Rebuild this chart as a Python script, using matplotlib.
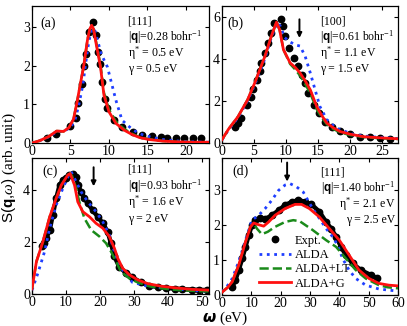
import matplotlib

matplotlib.use("Agg")
import matplotlib.pyplot as plt

# ---- panel (a): [111], q = 0.28 ----
a_expt_x = [1.9, 3.1, 5.0, 5.7, 6.0, 6.56, 6.7, 7.0, 7.35, 7.96, 8.3, 8.6, 8.8, 9.05, 9.43,
            9.78, 10.65, 11.7, 13.1, 14.3, 15.6, 16.7, 17.6, 18.7, 19.8, 20.9, 22.0]
a_expt_y = [0.13, 0.24, 0.44, 0.64, 1.04, 1.54, 2.0, 2.3, 2.87, 3.13, 2.79, 2.36, 2.04, 1.57, 1.13,
            0.9, 0.59, 0.42, 0.29, 0.2, 0.17, 0.15, 0.14, 0.13, 0.12, 0.12, 0.12]
a_alda_x = [0, 1, 2.2, 3.2, 4.1, 5.0, 5.6, 6.1, 6.6, 7.0, 7.4, 7.8, 8.2, 8.6, 9.0, 9.8,
            10.9, 11.7, 13.1, 14.3, 15.5, 17.0, 19.0, 21.0, 23.0]
a_alda_y = [0, 0.06, 0.16, 0.29, 0.3, 0.4, 0.6, 1.0, 1.5, 2.1, 2.65, 2.97, 2.9, 2.6, 2.3, 1.97,
            1.11, 0.59, 0.34, 0.22, 0.15, 0.09, 0.05, 0.03, 0.02]
a_g_x = [0, 1, 2.2, 3.2, 4.1, 4.8, 5.4, 5.9, 6.3, 6.7, 7.2, 7.5, 7.75, 8.0, 8.4, 8.9, 9.35,
         10.0, 10.9, 12.0, 13.0, 14.0, 15.2, 17.0, 19.0, 21.0, 23.0]
a_g_y = [0, 0.06, 0.17, 0.31, 0.3, 0.4, 0.62, 1.11, 1.55, 1.97, 2.66, 2.95, 3.05, 2.95, 2.5, 1.97, 1.24,
         0.81, 0.51, 0.33, 0.22, 0.14, 0.09, 0.05, 0.03, 0.02, 0.02]
a_lt_y = [0, 0.06, 0.17, 0.31, 0.3, 0.4, 0.62, 1.11, 1.55, 1.97, 2.66, 2.95, 3.03, 2.95, 2.55, 2.02, 1.3,
          0.87, 0.56, 0.36, 0.24, 0.15, 0.1, 0.05, 0.03, 0.02, 0.02]

# ---- panel (b): [100], q = 0.61 ----
b_expt_x = [2.0, 2.5, 3.0, 3.95, 4.47, 4.8, 5.5, 5.9, 6.14, 6.66, 7.2, 7.7, 8.2, 9.15, 9.5, 9.9,
            10.4, 11.3, 11.95, 12.5, 13.0, 13.5, 14.3, 15.1, 16.1, 17.2, 18.5, 20.0, 21.6, 23.1,
            24.7, 26.3]
b_expt_y = [0.75, 0.97, 1.18, 1.81, 2.2, 2.56, 3.0, 3.4, 3.8, 4.27, 4.75, 5.22, 5.7, 5.86, 5.54, 5.06,
            4.5, 4.03, 3.63, 3.24, 2.84, 2.37, 1.81, 1.41, 1.01, 0.78, 0.59, 0.41, 0.3, 0.27,
            0.22, 0.19]
b_alda_x = [0, 1, 2.5, 4, 5.1, 6.0, 6.7, 7.7, 8.6, 9.1, 9.8, 10.6, 11.5, 12.2, 13.0, 13.8, 14.55,
            15.3, 16.4, 17.9, 20.5, 23.0, 27.5]
b_alda_y = [0.15, 0.62, 1.2, 2.0, 2.75, 3.45, 4.0, 5.0, 5.7, 5.55, 5.0, 4.8, 4.65, 4.6, 4.11, 3.32, 2.52,
            1.73, 1.1, 0.7, 0.41, 0.3, 0.21]
b_g_x = [0, 1, 2.5, 4, 5.1, 6.0, 6.7, 7.7, 8.5, 9.0, 9.6, 10.65, 11.4, 12.2, 13.0, 13.8, 14.8, 15.6,
         16.4, 17.4, 18.5, 20.0, 22.1, 25.0, 27.5]
b_g_y = [0.16, 0.65, 1.25, 2.05, 2.84, 3.55, 4.11, 5.06, 5.73, 5.38, 4.43, 3.8, 3.6, 3.32, 2.95, 2.52,
         1.73, 1.3, 0.94, 0.72, 0.54, 0.42, 0.3, 0.24, 0.2]
b_lt_y = [0.16, 0.65, 1.25, 2.05, 2.84, 3.55, 4.11, 5.06, 5.73, 5.38, 4.43, 3.75, 3.5, 3.2, 2.8, 2.35,
          1.6, 1.2, 0.88, 0.66, 0.5, 0.38, 0.28, 0.22, 0.19]

# ---- panel (c): [111], q = 0.93 ----
c_expt_x = [3.0, 3.6, 4.2, 5.2, 6.1, 7.1, 8.1, 9.06, 10.05, 11.0, 12.0, 13.0, 13.45, 14.4, 15.4,
            16.4, 17.8, 19.3, 20.8, 22.2, 23.2, 24.2, 25.6, 27.6, 29.5, 32.0, 34.4, 37.0, 39.3,
            42.0, 44.2, 47.0, 49.0, 51.5]
c_expt_y = [1.85, 1.95, 2.15, 2.47, 3.05, 3.69, 4.2, 4.4, 4.48, 4.59, 4.65, 4.52, 4.2, 3.95, 3.69,
            3.5, 3.24, 2.98, 2.73, 2.41, 1.96, 1.45, 1.06, 0.81, 0.64, 0.45, 0.32, 0.27, 0.23,
            0.21, 0.19, 0.17, 0.16, 0.15]
c_alda_x = [0, 1.75, 3.7, 5.2, 7.1, 9.06, 10.8, 11.5, 13.0, 14.4, 16.4, 18.8, 20.8, 22.7, 24.2,
            25.6, 27.6, 29.5, 34.4, 41.2, 47.0, 52.0]
c_alda_y = [0.15, 0.81, 1.64, 2.54, 3.43, 4.08, 4.59, 4.72, 4.33, 3.95, 3.56, 3.18, 2.79, 2.28, 1.64,
            1.13, 0.74, 0.45, 0.29, 0.2, 0.14, 0.1]
c_lt_x = [0, 1.3, 3.2, 5.2, 7.1, 8.6, 10.5, 11.2, 11.8, 13.0, 13.9, 15.4, 17.4, 19.8, 21.75, 23.2,
          24.7, 26.1, 28.6, 31.0, 34.4, 38.0, 41.2, 47.0, 52.0]
c_lt_y = [0.2, 1.25, 2.02, 2.98, 3.69, 4.2, 4.59, 4.65, 4.55, 4.08, 3.56, 2.92, 2.47, 2.22, 1.96, 1.64,
          1.25, 0.87, 0.6, 0.45, 0.3, 0.22, 0.17, 0.12, 0.1]
c_g_x = [0, 1.3, 3.2, 5.2, 7.1, 8.6, 10.5, 11.2, 12.5, 13.45, 14.9, 16.9, 18.8, 20.8, 22.7, 24.2,
         25.2, 26.6, 28.6, 31.0, 34.0, 38.0, 42.0, 47.0, 52.0]
c_g_y = [0.2, 1.25, 2.02, 2.98, 3.69, 4.2, 4.59, 4.65, 4.2, 3.56, 3.18, 2.98, 2.73, 2.54, 2.22, 1.77,
         1.38, 1.0, 0.74, 0.55, 0.4, 0.3, 0.24, 0.18, 0.15]

# ---- panel (d): [111], q = 1.40 ----
d_expt_x = [3.5, 4.6, 5.7, 6.9, 8.0, 9.1, 10.2, 11.4, 13.0, 14.7, 17.0, 19.3, 21.5, 23.8, 26.0,
            28.2, 30.5, 33.2, 35.5, 37.2, 38.9, 40.6, 42.2, 44.5, 47.3, 50.7, 53.0]
d_expt_y = [0.24, 0.43, 0.71, 1.04, 1.37, 1.7, 1.99, 2.13, 2.18, 2.16, 2.27, 2.41, 2.56, 2.65, 2.7,
            2.66, 2.58, 2.37, 2.08, 1.89, 1.66, 1.37, 1.14, 0.9, 0.71, 0.57, 0.47]
d_alda_x = [0, 2, 3.5, 5.7, 8.0, 10.2, 12.5, 14.7, 17.0, 19.3, 21.5, 23.2, 25.4, 27.7, 30.9, 33.2,
            35.5, 37.7, 39.4, 41.1, 43.3, 45.6, 49.0, 53.5, 60.0]
d_alda_y = [0.09, 0.28, 0.47, 0.95, 1.56, 2.13, 2.27, 2.46, 2.7, 2.98, 3.13, 3.17, 3.08, 2.93, 2.46,
            2.18, 1.89, 1.66, 1.42, 1.04, 0.71, 0.47, 0.28, 0.17, 0.11]
d_lt_x = [0, 2, 3.5, 5.7, 8.0, 9.7, 10.8, 12.0, 13.6, 15.6, 18.1, 21.5, 24.3, 26.5, 30.9, 35.5,
          38.9, 42.2, 45.6, 49.0, 53.5, 56.5, 60.0]
d_lt_y = [0.08, 0.22, 0.38, 0.85, 1.51, 1.94, 2.03, 1.88, 1.73, 1.8, 1.94, 2.08, 2.13, 2.1, 1.85,
          1.56, 1.37, 1.04, 0.71, 0.47, 0.28, 0.22, 0.19]
d_g_x = [0, 2, 3.5, 5.7, 8.0, 9.7, 10.8, 12.5, 14.2, 15.9, 18.1, 21.5, 24.9, 27.1, 29.8, 33.2,
         36.6, 40.0, 43.3, 46.7, 50.1, 53.5, 56.9, 60.0]
d_g_y = [0.08, 0.22, 0.38, 0.85, 1.51, 1.94, 2.05, 2.0, 1.96, 2.08, 2.27, 2.46, 2.58, 2.58, 2.46,
         2.22, 1.89, 1.56, 1.14, 0.71, 0.47, 0.33, 0.28, 0.26]

W, H = 407, 326
plt.rcParams.update({
    "font.family": "Liberation Serif",
    "mathtext.fontset": "custom",
    "mathtext.rm": "Liberation Serif",
    "mathtext.it": "Liberation Serif:italic",
    "mathtext.bf": "Liberation Sans:bold",
    "mathtext.sf": "Liberation Sans",
    "font.size": 9,
    "xtick.direction": "in",
    "ytick.direction": "in",
    "xtick.top": True,
    "ytick.right": True,
    "xtick.major.size": 3,
    "ytick.major.size": 3,
    "xtick.major.pad": 1.5,
    "ytick.major.pad": 1.5,
    "axes.linewidth": 0.9,
})

fig = plt.figure(figsize=(W / 100, H / 100), dpi=100)


def px_axes(x0, y0, x1, y1):
    return fig.add_axes([x0 / W, 1 - y1 / H, (x1 - x0) / W, (y1 - y0) / H])


def draw(ax, ex, ey, ax_x, ax_y, lt_x, lt_y, g_x, g_y, band=False):
    if band:
        ax.plot(ex, ey, "-", color="black", lw=3.2, zorder=2)
    ax.plot(ex, ey, "o", color="black", ms=4.6, zorder=2, label="Expt.")
    ax.plot(ax_x, ax_y, ":", color="#1f3fff", lw=2.0, zorder=3, label="ALDA")
    ax.plot(lt_x, lt_y, "--", color="#1a8a1a", lw=1.8, zorder=3, label="ALDA+LT")
    ax.plot(g_x, g_y, "-", color="#ff1010", lw=2.0, zorder=4, label="ALDA+G")


def info(ax, x, y, lines, dy=0.116, ha="left"):
    for i, s in enumerate(lines):
        ax.text(x, y - i * dy, s, transform=ax.transAxes, ha=ha, va="center", fontsize=8.5)


def arrow(ax, x, y0, y1):
    ax.annotate("", xy=(x, y1), xytext=(x, y0),
                arrowprops=dict(arrowstyle="-|>", color="black", lw=1.4, mutation_scale=7))


ax_a = px_axes(32, 6, 209, 143)
draw(ax_a, a_expt_x, a_expt_y, a_alda_x, a_alda_y, a_g_x, a_lt_y, a_g_x, a_g_y)
ax_a.set_xlim(0, 23)
ax_a.set_ylim(0, 3.55)
ax_a.set_xticks([0, 5, 10, 15, 20])
ax_a.set_yticks([0, 1, 2, 3])
ax_a.text(0.045, 0.875, "(a)", transform=ax_a.transAxes, fontsize=10, va="center")
info(ax_a, 0.54, 0.885, ["[111]", r"|$\mathbf{q}$|=0.28 bohr$^{-1}$",
                         r"η$^{*}$ = 0.5 eV", "γ = 0.5 eV"])

ax_b = px_axes(222, 6, 398, 143)
draw(ax_b, b_expt_x, b_expt_y, b_alda_x, b_alda_y, b_g_x, b_lt_y, b_g_x, b_g_y)
ax_b.set_xlim(0, 27.5)
ax_b.set_ylim(0, 6.5)
ax_b.set_xticks([0, 5, 10, 15, 20, 25])
ax_b.set_yticks([0, 2, 4, 6])
ax_b.text(0.03, 0.875, "(b)", transform=ax_b.transAxes, fontsize=10, va="center")
info(ax_b, 0.555, 0.885, ["[100]", r"|$\mathbf{q}$|=0.61 bohr$^{-1}$",
                          r"η$^{*}$ = 1.1 eV", "γ = 1.5 eV"])
arrow(ax_b, 12.1, 6.0, 4.85)

ax_c = px_axes(32, 158, 209, 294)
draw(ax_c, c_expt_x, c_expt_y, c_alda_x, c_alda_y, c_lt_x, c_lt_y, c_g_x, c_g_y, band=True)
ax_c.set_xlim(0, 52)
ax_c.set_ylim(0, 5.25)
ax_c.set_xticks([0, 10, 20, 30, 40, 50])
ax_c.set_yticks([0, 2, 4])
ax_c.text(0.06, 0.9, "(c)", transform=ax_c.transAxes, fontsize=10, va="center")
info(ax_c, 0.54, 0.915, ["[111]", r"|$\mathbf{q}$|=0.93 bohr$^{-1}$",
                         r"η$^{*}$ = 1.6 eV", "γ = 2 eV"], dy=0.121)
arrow(ax_c, 18.1, 5.0, 4.05)

ax_d = px_axes(222, 158, 398, 295)
draw(ax_d, d_expt_x, d_expt_y, d_alda_x, d_alda_y, d_lt_x, d_lt_y, d_g_x, d_g_y, band=True)
ax_d.set_xlim(0, 60)
ax_d.set_ylim(0, 3.9)
ax_d.set_xticks([0, 10, 20, 30, 40, 50, 60])
ax_d.set_yticks([0, 1, 2, 3])
ax_d.text(0.06, 0.9, "(d)", transform=ax_d.transAxes, fontsize=10, va="center")
ax_d.text(0.56, 0.895, "[111]", transform=ax_d.transAxes, fontsize=8.5, va="center")
info(ax_d, 0.985, 0.782, [r"|$\mathbf{q}$|=1.40 bohr$^{-1}$",
                          r"η$^{*}$ = 2.1 eV", "γ = 2.5 eV"], ha="right")
arrow(ax_d, 22.2, 3.85, 3.15)
ax_d.legend(loc="lower left", bbox_to_anchor=(0.21, 0.04), frameon=False, fontsize=9,
            handlelength=2.6, handletextpad=0.25, labelspacing=0.18, borderpad=0.0,
            borderaxespad=0.0)

for ax in (ax_a, ax_b, ax_c, ax_d):
    for lab in ax.get_xticklabels() + ax.get_yticklabels():
        lab.set_fontsize(10)

fig.text(9 / W, 1 - 168 / H, r"$\mathsf{S(}\mathbf{q}\mathsf{,}\omega\mathsf{)}$ (arb. unit)",
         rotation=90, ha="center", va="center", fontsize=11)
fig.text(225 / W, 1 - 318 / H, r"$\boldsymbol{\omega}$ (eV)", ha="center", va="center",
         fontsize=11)

fig.savefig("out.png", dpi=100)
